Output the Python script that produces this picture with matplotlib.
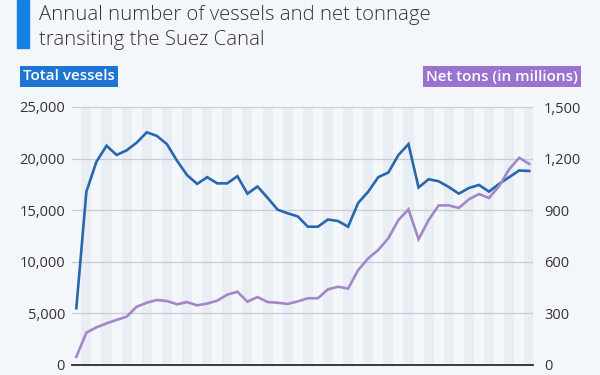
#!/usr/bin/env python3

import matplotlib
matplotlib.use("Agg")
import matplotlib.pyplot as plt
from matplotlib.patches import Rectangle
from matplotlib.ticker import FuncFormatter

# Suez Canal transits per year
years = list(range(1975, 2021))
vessels = [5500, 16800, 19700, 21250, 20350, 20800, 21550, 22550, 22200, 21400,
           19800, 18400, 17550, 18200, 17600, 17600, 18300, 16600, 17300, 16200,
           15050, 14700, 14400, 13400, 13400, 14100, 13950, 13400, 15700, 16800,
           18200, 18650, 20350, 21400, 17200, 18000, 17800, 17250, 16600, 17150,
           17450, 16800, 17550, 18200, 18850, 18800]
net_tons = [48, 188, 219, 242, 262, 281, 339, 362, 378, 372,
            353, 366, 347, 357, 374, 409, 426, 368, 395, 366,
            362, 355, 370, 388, 388, 440, 455, 444, 552, 620,
            669, 737, 843, 905, 731, 843, 928, 928, 913, 963,
            994, 971, 1040, 1138, 1205, 1169]
left_ticks = [0, 5000, 10000, 15000, 20000, 25000]
right_ticks = [0, 300, 600, 900, 1200, 1500]
x_ticks = [1975, 1980, 1985, 1990, 1995, 2000, 2005, 2010, 2015, 2020]
x_labels = ["'75", "'80", "'85", "'90", "'95", "'00", "'05", "'10", "'15", "'20"]

bg = "#f4f7fa"
blue_line = "#2767ad"
purple_line = "#a387c9"
blue_box = "#1f75d1"
purple_box = "#9a72cf"
title_bar = "#1580e4"
text_col = "#333333"

plt.rcParams['font.family'] = ['Open Sans', 'DejaVu Sans']

fig = plt.figure(figsize=(6, 3.75), dpi=100, facecolor=bg)
W, H = 600, 375

def fx(px):
    return px / W

def fy(py):
    return 1 - py / H

# title
fig.patches.append(Rectangle((fx(17), fy(48)), fx(12), 48 / H,
                             transform=fig.transFigure, color=title_bar))
fig.text(fx(39), fy(15), "Annual number of vessels and net tonnage",
         fontsize=14.7, fontweight='light', color=text_col, va='center')
fig.text(fx(39), fy(40), "transiting the Suez Canal",
         fontsize=14.7, fontweight='light', color=text_col, va='center')

# series labels
fig.text(fx(23), fy(76.5), "Total vessels", fontsize=11, fontweight='semibold',
         color='white', va='center', ha='left',
         bbox=dict(boxstyle='square,pad=0.2', fc=blue_box, ec='none'))
fig.text(fx(578), fy(76.5), "Net tons (in millions)", fontsize=10.9, fontweight='semibold',
         color='white', va='center', ha='right',
         bbox=dict(boxstyle='square,pad=0.2', fc=purple_box, ec='none'))

ax = fig.add_axes([fx(72), fy(365), fx(533) - fx(72), (365 - 107) / H])
ax.set_facecolor(bg)
ax.set_xlim(1974.57, 2020.37)
ax.set_ylim(0, 25000)

# alternating year stripes
for i, yr in enumerate(years):
    if i % 2 == 1:
        ax.axvspan(yr - 0.5, yr + 0.5, color="#e9eef5", lw=0, zorder=0)

ax.set_yticks(left_ticks)
ax.yaxis.set_major_formatter(FuncFormatter(lambda v, p: f"{int(v):,}"))
ax.grid(axis='y', color="#c9cdd3", lw=0.9, zorder=1)
ax.set_axisbelow(True)
for s in ['top', 'left', 'right']:
    ax.spines[s].set_visible(False)
ax.spines['bottom'].set_color("#2b2b2b")
ax.spines['bottom'].set_linewidth(1.3)
ax.spines['bottom'].set_zorder(5)
ax.tick_params(axis='y', length=0, pad=5, labelsize=10.5, labelcolor=text_col)
ax.set_xticks(x_ticks)
ax.set_xticklabels(x_labels)
ax.tick_params(axis='x', length=0, pad=6.5, labelsize=10.5, labelcolor="#555555")

ax.plot(years, vessels, color=blue_line, lw=1.9, zorder=3, solid_joinstyle='miter')

ax2 = ax.twinx()
ax2.set_ylim(0, 1500)
ax2.set_yticks(right_ticks)
ax2.yaxis.set_major_formatter(FuncFormatter(lambda v, p: f"{int(v):,}"))
for s in ['top', 'left', 'right', 'bottom']:
    ax2.spines[s].set_visible(False)
ax2.tick_params(axis='y', length=0, pad=8, labelsize=10.5, labelcolor=text_col)
ax2.plot(years, net_tons, color=purple_line, lw=1.9, zorder=3, solid_joinstyle='miter')

fig.savefig("out.png", dpi=100, facecolor=bg)
